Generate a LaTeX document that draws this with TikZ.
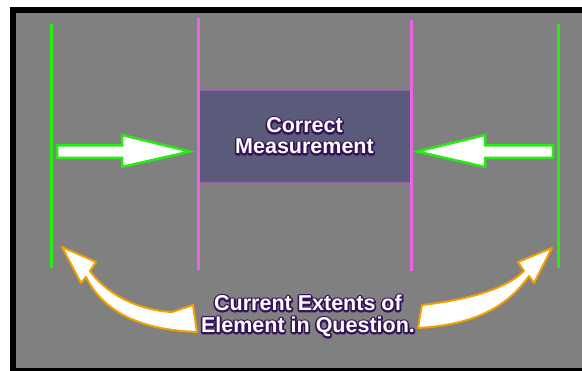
\documentclass[tikz,border=0pt]{standalone}
\usepackage{fontspec}
\setmainfont{Liberation Sans}
\newfontface\halofont[FakeBold=16]{Liberation Sans Bold}
\usetikzlibrary{shadows}

\definecolor{bggray}{RGB}{128,128,128}
\definecolor{limeline}{RGB}{40,235,20}
\definecolor{pinkline}{RGB}{232,100,228}
\definecolor{boxfill}{RGB}{90,90,122}
\definecolor{orangeedge}{RGB}{240,160,0}
\definecolor{txtline}{RGB}{55,20,90}

% white text with a dark purple halo (round joins for the stroked copy)
\newcommand{\outl}[1]{\special{pdf:literal direct 1 j 1 J}\makebox[0pt][l]{\color{txtline}\halofont #1}#1}

\begin{document}
\begin{tikzpicture}[x=1pt,y=-1pt,
  greenln/.style={draw=limeline,line width=3pt},
  pinkln/.style={draw=pinkline,line width=3pt},
  blockarr/.style={draw=limeline,fill=white,line width=2.5pt},
  bendarr/.style={draw=orangeedge,fill=white,line width=2pt,line join=round,
    drop shadow={opacity=0.35,shadow xshift=3pt,shadow yshift=-3pt}},
  lbl/.style={text=white,align=center,inner sep=0pt}]
\useasboundingbox (0,0) rectangle (582,371);
\fill[white] (0,0) rectangle (582,371);
\fill[black] (10,7) rectangle (582,371);
\fill[bggray] (16,13) rectangle (582,368);

% extents of the element
\coordinate (gltop) at (51,24);
\coordinate (glbot) at (51,268);
\coordinate (grtop) at (558,24);
\coordinate (grbot) at (558,268);
\draw[greenln] (gltop) -- (glbot);
\draw[greenln] (grtop) -- (grbot);

% measured part
\node[lbl,fill=boxfill,draw=pinkline!45!boxfill,line width=0.6pt,minimum width=213pt,minimum height=92pt,
  font=\fontsize{21.5}{21}\selectfont\bfseries] (meas) at (304.5,136)
  {\outl{Correct}\\\outl{Measurement}};
\coordinate (pltop) at (198,18);
\coordinate (plbot) at (198,270);
\coordinate (prtop) at (411,20);
\coordinate (prbot) at (411,271);
\draw[pinkln] (pltop) -- (plbot);
\draw[pinkln] (prtop) -- (prbot);

% block arrows
\draw[blockarr] (57,145.5) -- (122,145.5) -- (122,135) -- (190,151.5) -- (122,167) -- (122,158) -- (57,158) -- cycle;
\draw[blockarr] (553,145.5) -- (485,145.5) -- (485,135) -- (417,151.5) -- (485,167) -- (485,158) -- (553,158) -- cycle;

% curved arrows
\draw[bendarr] (62,247) -- (96,262) -- (90,271) .. controls (105,292) and (135,310) .. (172,312)
  -- (193,305) -- (197,332) .. controls (145,330) and (105,315) .. (86,277) -- (81,283) -- cycle;
\draw[bendarr] (552,248) -- (534,283) -- (529,276) .. controls (505,310) and (470,325) .. (418,328)
  -- (422,305) .. controls (465,300) and (505,290) .. (524,271) -- (518,262) -- cycle;

\node[lbl,font=\fontsize{21.5}{22}\selectfont\bfseries] (extents) at (308,316)
  {\outl{Current Extents of}\\\outl{Element in Question.}};
\end{tikzpicture}
\end{document}
